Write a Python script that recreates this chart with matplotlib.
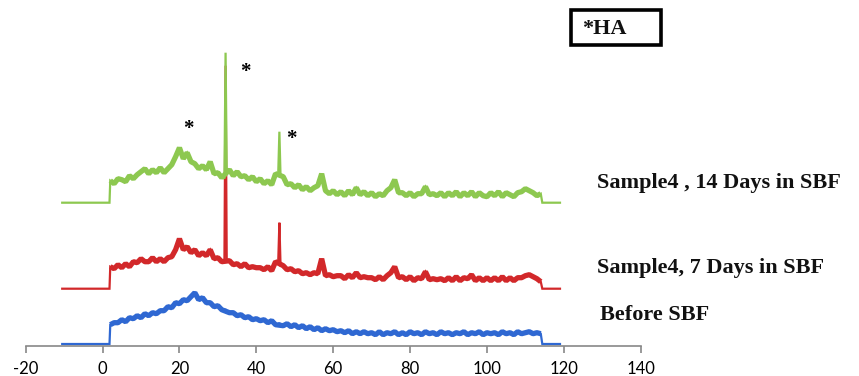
import matplotlib
matplotlib.use("Agg")
import matplotlib.pyplot as plt
from matplotlib.patches import Rectangle

# ---- data (heights in arbitrary units above the axis) ----
two_theta = list(range(2, 115))
lead_x = [-10.5, 1.8]
tail_x = [114.4, 119.0]

green_base = 143
green_vals = [165, 162, 167, 166, 164, 170, 167, 171, 174, 177, 172, 176, 173, 178, 173, 177,
              181, 189, 198, 187, 193, 184, 182, 177, 180, 176, 184, 172, 173, 168, 293, 176,
              170, 174, 169, 170, 166, 169, 164, 167, 162, 165, 161, 172, 214, 169, 161, 162,
              158, 161, 156, 159, 155, 158, 160, 172, 155, 152, 155, 151, 154, 150, 155, 151,
              158, 151, 154, 150, 153, 149, 152, 150, 155, 158, 166, 153, 153, 150, 153, 149,
              152, 152, 159, 151, 152, 150, 153, 149, 153, 150, 154, 149, 153, 150, 154, 149,
              153, 150, 149, 153, 150, 154, 149, 153, 151, 149, 153, 154, 157, 155, 153, 150,
              152]

red_base = 57
red_vals = [79, 77, 81, 78, 82, 79, 84, 83, 87, 84, 84, 88, 84, 87, 84, 88,
            89, 96, 107, 96, 99, 93, 96, 90, 93, 90, 96, 87, 88, 84, 280, 85,
            81, 82, 79, 82, 78, 79, 78, 78, 76, 79, 75, 84, 123, 80, 76, 77,
            74, 75, 72, 73, 71, 73, 72, 87, 70, 71, 69, 70, 70, 67, 71, 68,
            73, 68, 69, 68, 68, 66, 69, 66, 70, 73, 79, 68, 69, 66, 69, 65,
            68, 67, 74, 66, 67, 66, 67, 65, 68, 65, 69, 65, 68, 67, 71, 65,
            68, 65, 68, 65, 68, 65, 69, 65, 68, 65, 68, 68, 70, 71, 69, 67,
            64]

blue_base = 1.7
blue_vals = [21, 23, 23, 26, 24, 28, 27, 30, 28, 32, 30, 33, 32, 35, 35, 39,
             38, 43, 42, 46, 45, 49, 53, 46, 48, 43, 43, 39, 40, 36, 36, 33,
             33, 30, 31, 28, 29, 26, 27, 25, 26, 23, 25, 21, 23, 20, 22, 19,
             21, 18, 20, 17, 19, 16, 18, 15, 17, 15, 16, 14, 15, 13, 15, 12,
             14, 12, 14, 12, 13, 11, 14, 11, 13, 12, 14, 11, 13, 11, 14, 12,
             13, 11, 14, 12, 13, 11, 14, 12, 13, 11, 13, 12, 14, 11, 13, 12,
             14, 11, 13, 12, 13, 11, 14, 12, 13, 11, 14, 12, 13, 14, 12, 13,
             12]

sharp_peaks = [32, 46]
x_ticks = [-20, 0, 20, 40, 60, 80, 100, 120, 140]

labels = ["Sample4 , 14 Days in SBF", "Sample4, 7 Days in SBF", "Before SBF"]
star_x = [22.2, 37.1, 49.2]
star_y = [217, 274, 207]


def build(vals, base):
    """Full trace: flat lead-in, measured points (sharp peaks as narrow spikes), flat tail."""
    xs = list(lead_x)
    ys = [base, base]
    for i, (x, v) in enumerate(zip(two_theta, vals)):
        if x in sharp_peaks:
            xs += [x - 0.3, x, x + 0.3]
            ys += [vals[i - 1], v, vals[i + 1]]
        else:
            xs.append(x)
            ys.append(v)
    xs += tail_x
    ys += [base, base]
    return xs, ys


def background(vals):
    """Measured points without the sharp spikes (noisy background band)."""
    pts = [(x, v) for x, v in zip(two_theta, vals) if x not in sharp_peaks]
    return [p[0] for p in pts], [p[1] for p in pts]


W, H = 859, 376
fig = plt.figure(figsize=(W / 100, H / 100), dpi=100)
ax = fig.add_axes([25.7 / W, (H - 345.7) / H, 615 / W, 345.7 / H])

for vals, base, col in [(blue_vals, blue_base, "#2f68d2"),
                        (red_vals, red_base, "#d2282a"),
                        (green_vals, green_base, "#8dc850")]:
    xs, ys = build(vals, base)
    ax.plot(xs, ys, color=col, lw=1.6, solid_joinstyle="miter")
    bx, by = background(vals)
    ax.plot(bx, by, color=col, lw=3.8, solid_joinstyle="bevel", solid_capstyle="butt")

ax.set_xlim(-20, 140)
ax.set_ylim(0, 345.7)
for s in ["left", "top", "right"]:
    ax.spines[s].set_visible(False)
ax.spines["bottom"].set_color("#888888")
ax.spines["bottom"].set_linewidth(1.2)
ax.set_yticks([])
ax.set_xticks(x_ticks)
ax.set_xticklabels([str(t) for t in x_ticks], fontfamily="Lato", fontsize=12)
ax.tick_params(axis="x", direction="out", length=5, width=1.2, color="#888888", pad=6)

serif = dict(fontfamily="Liberation Serif", fontweight="bold", fontsize=16, color="#111111")
ax.text(128.7, 162.7, labels[0], va="center", ha="left", **serif)
ax.text(128.7, 77.7, labels[1], va="center", ha="left", **serif)
ax.text(129.3, 30.7, labels[2], va="center", ha="left", **serif)

for sx, sy in zip(star_x, star_y):
    ax.text(sx, sy, "*", ha="center", va="center", fontfamily="Liberation Serif",
            fontweight="bold", fontsize=15, color="black")

fig.patches.append(Rectangle((570.7 / W, (H - 45) / H), 90.3 / W, 35 / H,
                             transform=fig.transFigure, fill=False,
                             edgecolor="black", linewidth=2.6))
fig.text(581.7 / W, (H - 29) / H, "*HA", va="center", ha="left", **serif)

fig.savefig("out.png", dpi=100)
